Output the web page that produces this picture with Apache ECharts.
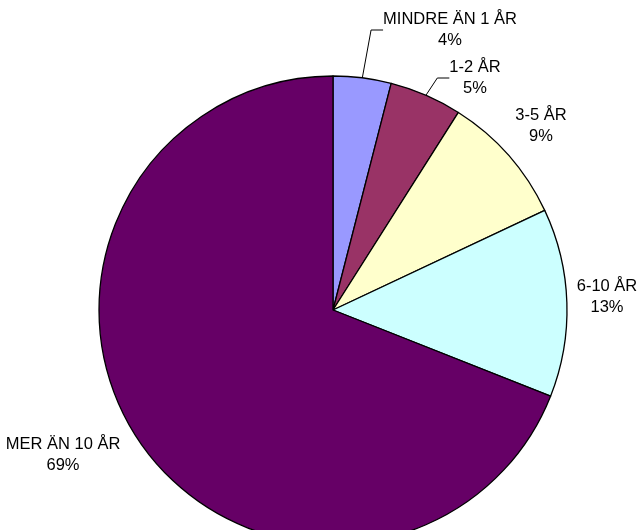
<!DOCTYPE html>
<html>
<head>
<meta charset="utf-8">
<script src="https://cdn.jsdelivr.net/npm/echarts@6/dist/echarts.min.js"></script>
<style>
  html, body { margin: 0; padding: 0; background: #fff; }
  #chart { width: 642px; height: 530px; }
</style>
</head>
<body>
<div id="chart"></div>
<script>
// data
var categories = ['MINDRE ÄN 1 ÅR', '1-2 ÅR', '3-5 ÅR', '6-10 ÅR', 'MER ÄN 10 ÅR'];
var shares = [4, 5, 9, 13, 69];
var colors = ['#9999FF', '#993366', '#FFFFCC', '#CCFFFF', '#660066'];
var showLine = [true, true, false, false, false];

// label anchor points (centre of each label block)
var labelPos = [[450, 30], [475, 78], [541, 126], [607, 297], [63, 455]];

var chart = echarts.init(document.getElementById('chart'));
chart.setOption({
    animation: false,
    series: [{
        type: 'pie',
        center: [333, 310],
        radius: 234,
        startAngle: 90,
        clockwise: true,
        avoidLabelOverlap: false,
        itemStyle: { borderColor: '#000', borderWidth: 1.3 },
        label: {
            position: 'outside',
            formatter: '{b}\n{d}%',
            fontFamily: 'Liberation Sans, Arial, sans-serif',
            fontSize: 16.5,
            lineHeight: 21,
            color: '#000',
            overflow: 'none',
            edgeDistance: 0,
            bleedMargin: 0
        },
        labelLine: { lineStyle: { color: '#000', width: 1 }, length: 20, length2: 12 },
        labelLayout: function (p) {
            var pos = labelPos[p.dataIndex];
            return { x: pos[0], y: pos[1], align: 'center', verticalAlign: 'middle' };
        },
        emphasis: { disabled: true },
        data: categories.map(function (c, i) {
            return {
                name: c,
                value: shares[i],
                itemStyle: { color: colors[i] },
                labelLine: { show: showLine[i] }
            };
        })
    }]
});
</script>
</body>
</html>
